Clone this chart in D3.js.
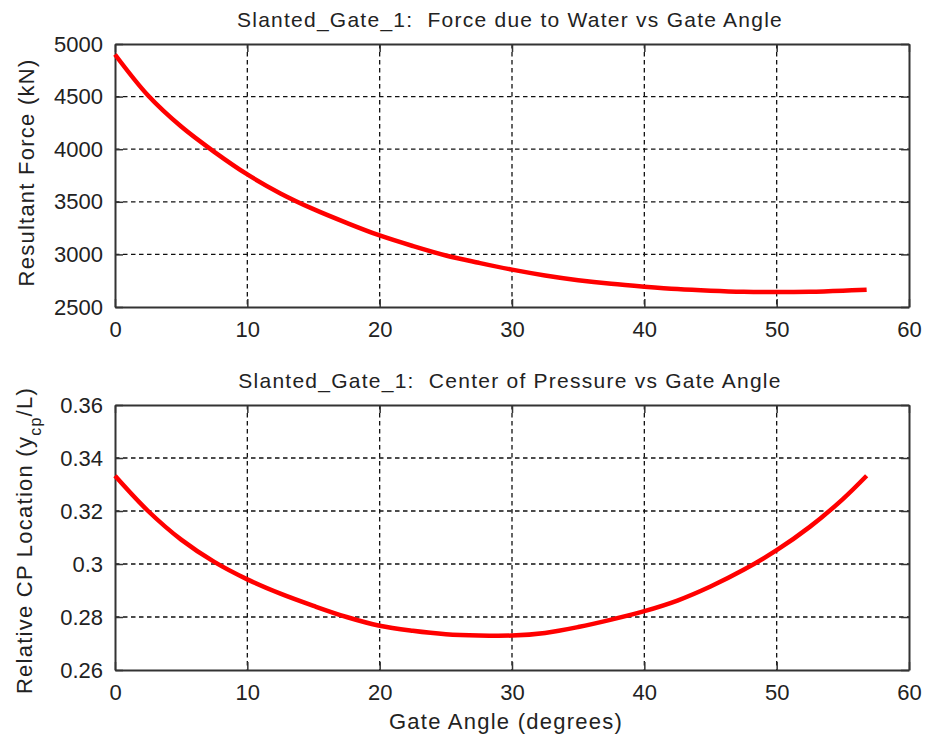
<!DOCTYPE html>
<html>
<head>
<meta charset="utf-8">
<script src="https://cdn.jsdelivr.net/npm/d3@7"></script>
<style>
  body { margin: 0; background: #fff; }
  svg text { font-family: "Liberation Sans", Arial, sans-serif; fill: #222; }
  .lbl { letter-spacing: 1.25px; white-space: pre; }
</style>
</head>
<body>
<svg id="chart" width="925" height="736"></svg>
<script>
// gate angle (degrees)
var angles = [0, 2.5, 5, 7.5, 10, 12.5, 15, 17.5, 20, 22.5, 25, 27.5, 30,
              32.5, 35, 37.5, 40, 42.5, 45, 47.5, 50, 52.5, 55, 56.8];

// resultant force (kN)
var force = [4900, 4510, 4215, 3975, 3760, 3580, 3430, 3300, 3180, 3080, 2990, 2920, 2855,
             2800, 2755, 2720, 2693, 2670, 2655, 2645, 2642, 2645, 2655, 2665];

// relative centre of pressure location
var cpLoc = [0.3333, 0.3200, 0.3092, 0.3008, 0.2942, 0.2888, 0.2842, 0.2800, 0.2767, 0.2748, 0.2735, 0.2730, 0.2730,
             0.2740, 0.2762, 0.2790, 0.2822, 0.2862, 0.2915, 0.2978, 0.3052, 0.3140, 0.3245, 0.3333];

var xTicks = [0, 10, 20, 30, 40, 50, 60];
var forceTicks = [2500, 3000, 3500, 4000, 4500, 5000];
var cpTicks = [0.26, 0.28, 0.30, 0.32, 0.34, 0.36];

var svg = d3.select("#chart");
var left = 115, right = 909;

function drawPanel(o) {
    var x = d3.scaleLinear().domain([0, 60]).range([left, right]);
    var y = d3.scaleLinear().domain(o.yDomain).range([o.bottom, o.top]);
    var g = svg.append("g");

    //grid
    g.selectAll(".vgrid").data(xTicks.slice(1, -1)).enter().append("line")
        .attr("x1", function (d) { return x(d); }).attr("x2", function (d) { return x(d); })
        .attr("y1", o.top).attr("y2", o.bottom)
        .attr("stroke", "#111").attr("stroke-width", 1.3).attr("stroke-dasharray", "4.5,3.5");
    g.selectAll(".hgrid").data(o.yTicks.slice(1, -1)).enter().append("line")
        .attr("y1", function (d) { return y(d); }).attr("y2", function (d) { return y(d); })
        .attr("x1", left).attr("x2", right)
        .attr("stroke", "#111").attr("stroke-width", 1.3).attr("stroke-dasharray", "4.5,3.5");

    //axes, ticks inside
    var xb = d3.axisBottom(x).tickValues(xTicks).tickSizeInner(-8).tickSizeOuter(0).tickPadding(14);
    var xt = d3.axisTop(x).tickValues(xTicks).tickSizeInner(-8).tickSizeOuter(0).tickFormat("");
    var yl = d3.axisLeft(y).tickValues(o.yTicks).tickSizeInner(-8).tickSizeOuter(0).tickPadding(12)
        .tickFormat(o.fmt);
    var yr = d3.axisRight(y).tickValues(o.yTicks).tickSizeInner(-8).tickSizeOuter(0).tickFormat("");

    [[xb, "translate(0," + o.bottom + ")"], [xt, "translate(0," + o.top + ")"],
     [yl, "translate(" + left + ",0)"], [yr, "translate(" + right + ",0)"]].forEach(function (a) {
        var ax = g.append("g").attr("transform", a[1]).call(a[0]);
        ax.select(".domain").attr("stroke", "#333").attr("stroke-width", 2);
        ax.selectAll(".tick line").attr("stroke", "#333").attr("stroke-width", 1.5);
        ax.selectAll("text").attr("font-size", 22).attr("fill", "#222")
            .style("font-family", '"Liberation Sans", Arial, sans-serif');
    });

    //curve
    var line = d3.line()
        .x(function (d, i) { return x(angles[i]); })
        .y(function (d) { return y(d); })
        .curve(d3.curveCatmullRom.alpha(0.5));
    g.append("path").datum(o.values)
        .attr("d", line)
        .attr("fill", "none").attr("stroke", "#ff0000").attr("stroke-width", 4.5)
        .attr("stroke-linejoin", "round");

    //title
    g.append("text").attr("class", "lbl").attr("x", (left + right) / 2 - 2).attr("y", o.top - 17)
        .attr("text-anchor", "middle").attr("font-size", 21).text(o.title);

    //y label
    var yt = g.append("text").attr("class", "lbl")
        .attr("transform", "translate(" + o.labelX + "," + ((o.top + o.bottom) / 2 + o.labelShift) + ") rotate(-90)")
        .attr("text-anchor", "middle").attr("font-size", 22);
    o.yLabel(yt);
    return x;
}

drawPanel({
    top: 44, bottom: 307, yDomain: [2500, 5000], yTicks: forceTicks, values: force,
    fmt: d3.format("d"), labelX: 34, labelShift: -3,
    title: "Slanted_Gate_1:  Force due to Water vs Gate Angle",
    yLabel: function (t) { t.text("Resultant Force (kN)"); }
});

drawPanel({
    top: 405, bottom: 670, yDomain: [0.26, 0.36], yTicks: cpTicks, values: cpLoc,
    fmt: function (d) { return d3.format(".2f")(d).replace(/0$/, ""); },
    labelX: 32, labelShift: 3,
    title: "Slanted_Gate_1:  Center of Pressure vs Gate Angle",
    yLabel: function (t) {
        t.append("tspan").text("Relative CP Location (y");
        t.append("tspan").attr("baseline-shift", "sub").attr("font-size", 16).text("cp");
        t.append("tspan").attr("baseline-shift", "0").text("/L)");
    }
});

svg.append("text").attr("class", "lbl").attr("x", (left + right) / 2 - 6).attr("y", 729)
    .attr("text-anchor", "middle").attr("font-size", 22).text("Gate Angle (degrees)");
</script>
</body>
</html>
